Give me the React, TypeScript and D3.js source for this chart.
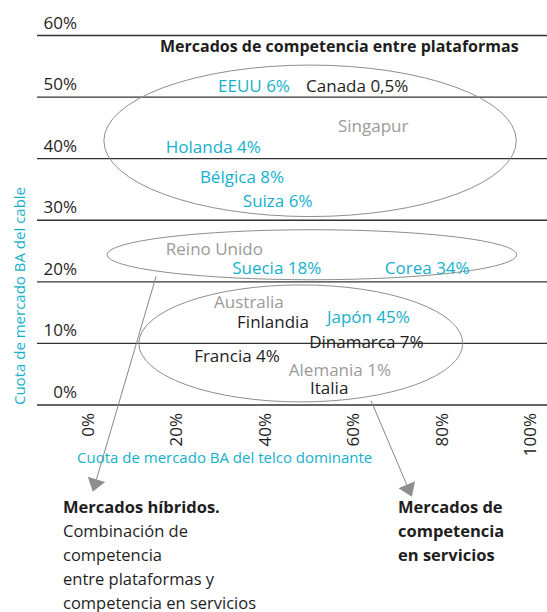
import React from 'react';
import * as d3 from 'd3';

const W = 547;
const H = 612;

// axis ticks (market share, %)
const yTicks = [0, 10, 20, 30, 40, 50, 60];
const xTicks = [0, 20, 40, 60, 80, 100];

// country labels: x = share of dominant telco, y = share of cable
const countries = ['EEUU 6%', 'Canada 0,5%', 'Singapur', 'Holanda 4%', 'Bélgica 8%', 'Suiza 6%',
	'Reino Unido', 'Suecia 18%', 'Corea 34%', 'Australia', 'Finlandia', 'Japón 45%',
	'Dinamarca 7%', 'Francia 4%', 'Alemania 1%', 'Italia'];
const countryX = [29.5, 49.4, 56.6, 17.7, 25.4, 35.1, 17.7, 32.7, 67.2, 28.6, 33.8, 54.1, 50.1, 24.1, 45.5, 50.3];
const countryY = [50.8, 50.8, 44.3, 41.0, 36.1, 32.2, 24.4, 21.3, 21.3, 15.8, 12.5, 13.3, 9.3, 7.0, 4.7, 1.8];
const countryGroup = ['cyan', 'dark', 'gray', 'cyan', 'cyan', 'cyan', 'gray', 'cyan', 'cyan', 'gray',
	'dark', 'cyan', 'dark', 'dark', 'gray', 'dark'];

// market clusters (centre and radii in axis units)
const clusterCx = [50.3, 50.7, 48.2];
const clusterCy = [42.9, 24.4, 10.0];
const clusterRx = [46.6, 46.3, 36.6];
const clusterRy = [12.3, 4.06, 9.5];

// arrows from clusters to their notes
const arrowFrom = [[15.5, 20.9], [64.1, 0.65]];
const arrowTo = [[1.2, -14.1], [73.3, -14.9]];

const noteLeft = ['Mercados híbridos.', 'Combinación de', 'competencia', 'entre plataformas y', 'competencia en servicios'];
const noteRight = ['Mercados de', 'competencia', 'en servicios'];

const colors = {cyan: '#14b1cd', dark: '#1e1e1e', gray: '#9b9b9b'};
const font = '"Open Sans", "Noto Sans", sans-serif';

export default function App() {
	const x = d3.scaleLinear().domain([0, 100]).range([87.5, 530]);
	const y = d3.scaleLinear().domain([0, 60]).range([405, 35.5]);
	const ux = (v: number) => x(v) - x(0);
	const uy = (v: number) => y(0) - y(v);

	const arrows = arrowFrom.map((f, i) => {
		const x1 = x(f[0]), y1 = y(f[1]);
		const x2 = x(arrowTo[i][0]), y2 = y(arrowTo[i][1]);
		const len = Math.hypot(x2 - x1, y2 - y1);
		const dx = (x2 - x1) / len, dy = (y2 - y1) / len;
		const head = 13, half = 9;
		const bx = x2 - dx * head, by = y2 - dy * head;
		const pts = [[x2, y2], [bx - dy * half, by + dx * half], [bx + dy * half, by - dx * half]];
		return {x1, y1, bx, by, pts: pts.map(p => p.join(',')).join(' ')};
	});

	return (
		<svg width={W} height={H} style={{position: 'absolute', left: 0, top: 0}} fontFamily={font}>
			{/* grid */}
			<g className="grid">
				{yTicks.map(t => (
					<g key={t}>
						<line x1={37} x2={W} y1={y(t)} y2={y(t)} stroke="#333" strokeWidth={1.3}/>
						<text x={77} y={y(t) - 7} textAnchor="end" fontSize={17} fill={colors.dark}>{t}%</text>
					</g>
				))}
			</g>

			{/* x tick labels */}
			<g className="x-labels">
				{xTicks.map(t => (
					<text key={t} transform={`translate(${x(t) + 6},413) rotate(-90)`} textAnchor="end"
						fontSize={17} fill={colors.dark}>{t}%</text>
				))}
			</g>

			<text x={160} y={52} fontSize={16} fontWeight="bold" fill={colors.dark}>
				Mercados de competencia entre plataformas
			</text>

			{/* clusters */}
			<g className="clusters">
				{clusterCx.map((cx, i) => (
					<ellipse key={i} cx={x(cx)} cy={y(clusterCy[i])} rx={ux(clusterRx[i])} ry={uy(clusterRy[i])}
						fill="none" stroke="#8e8e8e" strokeWidth={1}/>
				))}
			</g>

			{/* countries */}
			<g className="countries">
				{countries.map((c, i) => (
					<text key={c} x={x(countryX[i])} y={y(countryY[i])} fontSize={17}
						fill={colors[countryGroup[i]]}>{c}</text>
				))}
			</g>

			{/* axis titles */}
			<text transform="translate(25,296) rotate(-90)" textAnchor="middle" fontSize={15} fill={colors.cyan}>
				Cuota de mercado BA del cable
			</text>
			<text x={77} y={463} fontSize={15} fill={colors.cyan}>Cuota de mercado BA del telco dominante</text>

			{/* arrows */}
			<g className="arrows">
				{arrows.map((a, i) => (
					<g key={i}>
						<line x1={a.x1} y1={a.y1} x2={a.bx} y2={a.by} stroke="#888" strokeWidth={1}/>
						<polygon points={a.pts} fill="#8e8e8e"/>
					</g>
				))}
			</g>

			{/* notes */}
			<g className="notes" fontSize={16.5} fill={colors.dark}>
				{noteLeft.map((l, i) => (
					<text key={i} x={63} y={513 + i * 24} fontWeight={i === 0 ? 'bold' : 'normal'}>{l}</text>
				))}
				{noteRight.map((l, i) => (
					<text key={i} x={398} y={513 + i * 24} fontWeight="bold">{l}</text>
				))}
			</g>
		</svg>
	);
}
